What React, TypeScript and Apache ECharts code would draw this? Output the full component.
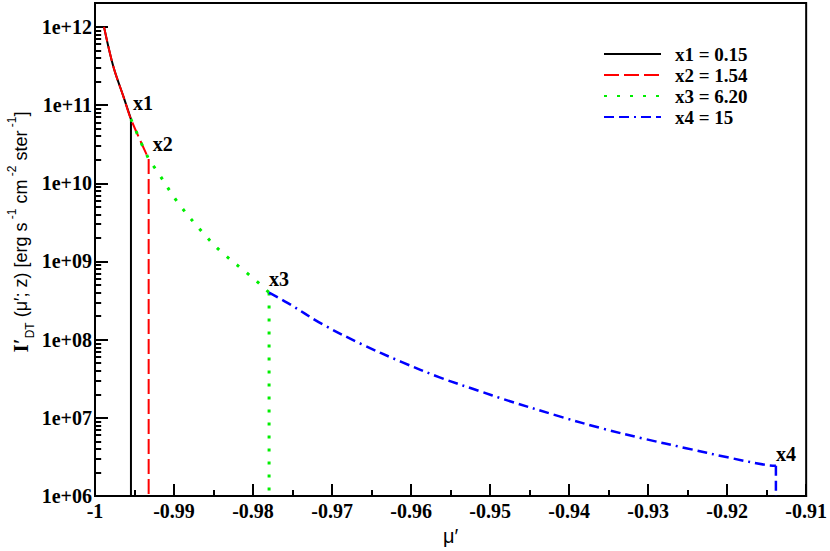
import React, { useEffect, useRef } from "react";
import * as echarts from "echarts";

// μ' sample positions along the common curve
const mu = [
  -0.99886, -0.99769, -0.99642, -0.99545, -0.99321, -0.9922, -0.98947, -0.98639,
  -0.9842, -0.98053, -0.97922, -0.97797, -0.97564, -0.97114, -0.96629, -0.96123,
  -0.95639, -0.95133, -0.94826, -0.941, -0.93575, -0.93048, -0.9252, -0.91995,
  -0.91509, -0.91383,
];
// I'_DT values [erg s^-1 cm^-2 ster^-1]
const intensity = [
  1.0e12, 3.13e11, 1.3e11, 6.6e10, 2.05e10, 1.46e10, 5.6e9, 2.36e9,
  1.38e9, 6.8e8, 5.25e8, 4.0e8, 2.96e8, 1.56e8, 8.8e7, 5.2e7,
  3.3e7, 2.2e7, 1.73e7, 1.03e7, 7.3e6, 5.4e6, 4.1e6, 3.13e6,
  2.5e6, 2.44e6,
];
// series: name, label, start index, end index (end = x_k cut point)
const seriesNames = ["x1 = 0.15", "x2 = 1.54", "x3 = 6.20", "x4 = 15"];
const pointLabels = ["x1", "x2", "x3", "x4"];
const startIdx = [0, 0, 3, 11];
const endIdx = [3, 4, 11, 25];
const floorValue = 1e6;

const yTickDecades = [6, 7, 8, 9, 10, 11, 12];
const xMin = -1;
const xMax = -0.91;
const xStep = 0.01;
const yTop = 12.305;

const colors = ["#000000", "#ff0000", "#00ee00", "#0000ff"];
const dashes: any[] = ["solid", [15, 5], [3, 10], [10, 5, 10, 5, 2, 5]];
const widths = [2, 2, 3, 2.5];
const labelOffsets = [
  [12, -16],
  [14, -15],
  [10, -14],
  [10, -12],
];

const SERIF = "'Liberation Serif', 'Times New Roman', serif";
const SANS = "'Liberation Sans', Arial, sans-serif";

const GRID_LEFT = 95;
const GRID_RIGHT = 23;
const WIDTH = 830;

export default function App() {
  const ref = useRef<HTMLDivElement>(null);
  useEffect(() => {
    document.body.style.margin = "0";
    if (!ref.current) return;
    const chart = echarts.init(ref.current, null, { renderer: "svg" });
    const lg = (v: number) => Math.log10(v);

    const minorTicks: number[] = [];
    for (let d = 6; d < 12; d++) {
      for (let k = 2; k <= 9; k++) minorTicks.push(d + Math.log10(k));
    }

    const series: any[] = [];
    seriesNames.forEach((name, i) => {
      const pts: number[][] = [];
      for (let j = startIdx[i]; j <= endIdx[i]; j++) pts.push([mu[j], lg(intensity[j])]);
      const last = endIdx[i];
      const lineStyle = {
        color: colors[i],
        width: widths[i],
        type: dashes[i],
        cap: "butt",
        join: "miter",
      };
      series.push({
        name,
        type: "line",
        data: pts,
        symbol: "none",
        showSymbol: false,
        smooth: 0.35,
        z: 2 + i,
        lineStyle,
        itemStyle: { color: colors[i] },
        markPoint: {
          symbol: "circle",
          symbolSize: 1,
          itemStyle: { color: "rgba(0,0,0,0)" },
          silent: true,
          data: [
            {
              coord: [mu[last], lg(intensity[last])],
              label: {
                show: true,
                position: "inside",
                formatter: pointLabels[i],
                offset: labelOffsets[i],
                color: "#000",
                fontFamily: SERIF,
                fontWeight: "bold",
                fontSize: 20,
              },
            },
          ],
        },
      });
      // vertical drop at the cut point
      series.push({
        name,
        type: "line",
        data: [
          [mu[last], lg(intensity[last])],
          [mu[last], lg(floorValue)],
        ],
        symbol: "none",
        showSymbol: false,
        z: 2 + i,
        lineStyle,
        itemStyle: { color: colors[i] },
      });
    });

    chart.setOption({
      animation: false,
      backgroundColor: "#fff",
      grid: {
        left: GRID_LEFT,
        right: GRID_RIGHT,
        top: 3,
        bottom: 51,
        show: true,
        borderColor: "#000",
        borderWidth: 2,
        backgroundColor: "#fff",
      },
      legend: {
        orient: "vertical",
        left: 603,
        top: 44,
        padding: 0,
        itemWidth: 57,
        itemHeight: 14,
        itemGap: 1,
        data: seriesNames,
        itemStyle: { opacity: 0 },
        textStyle: {
          fontFamily: SERIF,
          fontWeight: "bold",
          fontSize: 19,
          lineHeight: 20,
          color: "#000",
          padding: [0, 0, 0, 9],
        },
      },
      xAxis: {
        type: "value",
        min: xMin,
        max: xMax,
        interval: xStep,
        name: "μ′",
        nameLocation: "middle",
        nameGap: 28,
        nameTextStyle: { fontFamily: SANS, fontSize: 20, color: "#000" },
        axisLine: { show: true, lineStyle: { color: "#000", width: 2 } },
        axisTick: { show: true, inside: true, length: 12, lineStyle: { color: "#000", width: 2 } },
        minorTick: { show: true, splitNumber: 2, length: 6, lineStyle: { color: "#000", width: 2 } },
        splitLine: { show: false },
        minorSplitLine: { show: false },
        axisLabel: {
          margin: 5,
          color: "#000",
          fontFamily: SERIF,
          fontWeight: "bold",
          fontSize: 20,
          formatter: (v: number) => {
            const r = Math.round(v * 100) / 100;
            return r === -1 ? "-1" : r.toFixed(2);
          },
        },
      },
      yAxis: [
        {
          type: "value",
          min: 6,
          max: yTop,
          position: "left",
          axisLine: { show: true, lineStyle: { color: "#000", width: 2 } },
          axisTick: {
            show: true,
            inside: true,
            length: 13,
            customValues: yTickDecades,
            lineStyle: { color: "#000", width: 2 },
          },
          splitLine: { show: false },
          axisLabel: {
            customValues: yTickDecades,
            margin: 3,
            color: "#000",
            fontFamily: SERIF,
            fontWeight: "bold",
            fontSize: 20,
            formatter: (v: number) => "1e+" + String(Math.round(v)).padStart(2, "0"),
          },
        },
        {
          type: "value",
          min: 6,
          max: yTop,
          position: "right",
          offset: -(WIDTH - GRID_LEFT - GRID_RIGHT),
          axisLine: { show: false },
          axisTick: {
            show: true,
            inside: false,
            length: 7,
            customValues: minorTicks,
            lineStyle: { color: "#000", width: 2 },
          },
          splitLine: { show: false },
          axisLabel: { show: false },
        },
      ],
      graphic: [
        {
          type: "text",
          x: 21,
          y: 232,
          rotation: Math.PI / 2,
          style: {
            text: "{I|I′}{sub|DT}{n| (μ′; z) [erg s}{sup| -1}{n| cm}{sup| -2}{n| ster}{sup| -1}{n|]}",
            align: "center",
            verticalAlign: "middle",
            fill: "#000",
            rich: {
              I: { fontFamily: SERIF, fontWeight: "bold", fontSize: 21, lineHeight: 30, verticalAlign: "middle", fill: "#000" },
              n: { fontFamily: SANS, fontSize: 18, lineHeight: 30, verticalAlign: "middle", fill: "#000" },
              sub: { fontFamily: SANS, fontSize: 12, lineHeight: 13, verticalAlign: "bottom", fill: "#000" },
              sup: { fontFamily: SANS, fontSize: 12, lineHeight: 13, verticalAlign: "top", fill: "#000" },
            },
          },
        },
      ],
      series,
    });
    return () => chart.dispose();
  }, []);
  return <div ref={ref} style={{ width: 830, height: 551 }} />;
}
